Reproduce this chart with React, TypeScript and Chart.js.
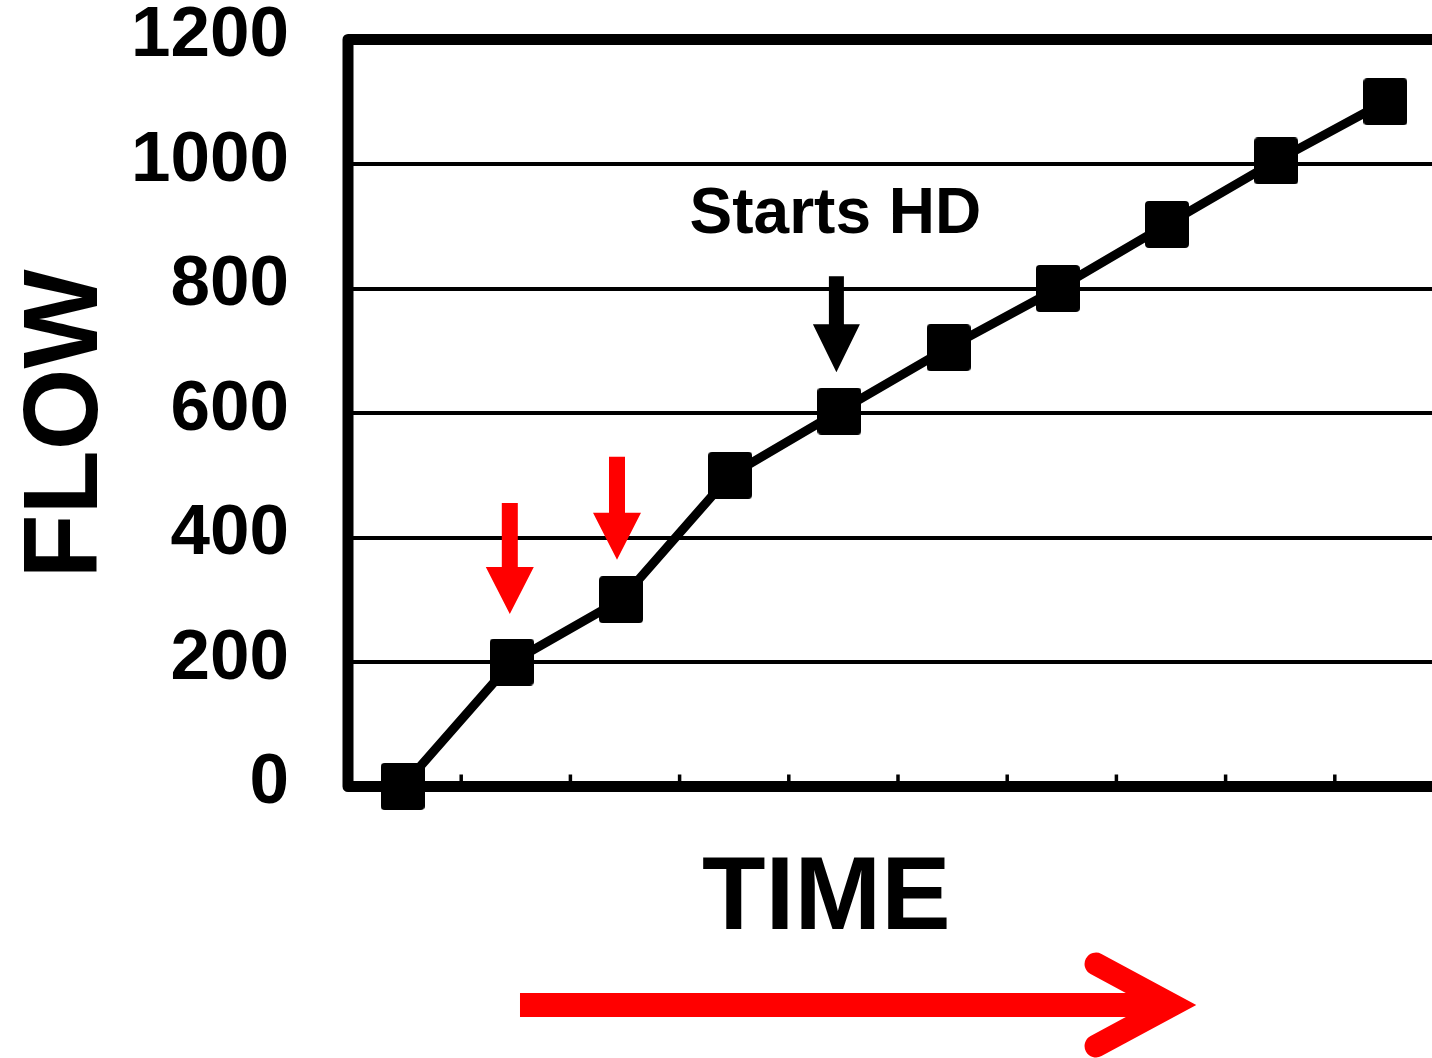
import React, { useEffect, useRef } from "react";
import { Chart, registerables } from "chart.js";

Chart.register(...registerables);

// ---- data ----
const timePoints = ["T1", "T2", "T3", "T4", "T5", "T6", "T7", "T8", "T9", "T10"];
const flowValues = [0, 200, 300, 500, 603, 705, 800, 903, 1005, 1100];
const flowTicks = [0, 200, 400, 600, 800, 1000, 1200];
const yAxisTitle = "FLOW";
const xAxisTitle = "TIME";
const startLabel = "Starts HD";
const startIndex = 4;
const redArrowIndices = [1, 2];

const FONT = '"Liberation Sans", Arial, Helvetica, sans-serif';
const RED = "#ff0000";

function makeMarker(w: number, h: number, r: number) {
  const c = document.createElement("canvas");
  c.width = w;
  c.height = h;
  const g = c.getContext("2d")!;
  g.fillStyle = "#000";
  g.beginPath();
  g.moveTo(r, 0);
  g.lineTo(w - r, 0);
  g.quadraticCurveTo(w, 0, w, r);
  g.lineTo(w, h - r);
  g.quadraticCurveTo(w, h, w - r, h);
  g.lineTo(r, h);
  g.quadraticCurveTo(0, h, 0, h - r);
  g.lineTo(0, r);
  g.quadraticCurveTo(0, 0, r, 0);
  g.closePath();
  g.fill();
  return c;
}

function downArrow(
  ctx: CanvasRenderingContext2D,
  x: number,
  tipY: number,
  length: number,
  shaftW: number,
  headW: number,
  headH: number,
  color: string
) {
  const topY = tipY - length;
  const headTop = tipY - headH;
  ctx.fillStyle = color;
  ctx.beginPath();
  ctx.moveTo(x - shaftW / 2, topY);
  ctx.lineTo(x + shaftW / 2, topY);
  ctx.lineTo(x + shaftW / 2, headTop);
  ctx.lineTo(x + headW / 2, headTop);
  ctx.lineTo(x, tipY);
  ctx.lineTo(x - headW / 2, headTop);
  ctx.lineTo(x - shaftW / 2, headTop);
  ctx.closePath();
  ctx.fill();
}

// annotation geometry (offsets relative to data points / chart area)
const arrowSpecs: Record<number, { dx: number; gap: number; len: number }> = {
  1: { dx: -2, gap: 48, len: 111 },
  2: { dx: -4, gap: 40, len: 103 },
  4: { dx: -3, gap: 39, len: 96 },
};

const framePlugin = {
  id: "frameAndTicks",
  beforeDatasetsDraw(chart: any) {
    const ctx: CanvasRenderingContext2D = chart.ctx;
    const { left, right, top, bottom } = chart.chartArea;
    const xs = chart.scales.x;
    ctx.save();
    // inner tick marks between categories
    ctx.strokeStyle = "#000";
    ctx.lineWidth = 3.5;
    for (let i = 0; i < timePoints.length - 1; i++) {
      const x = xs.getPixelForValue(i + 0.5) + 4;
      ctx.beginPath();
      ctx.moveTo(x, bottom);
      ctx.lineTo(x, bottom - 12);
      ctx.stroke();
    }
    // frame
    ctx.lineWidth = 11;
    ctx.lineJoin = "round";
    ctx.beginPath();
    ctx.moveTo(right + 20, top);
    ctx.lineTo(left, top);
    ctx.lineTo(left, bottom);
    ctx.lineTo(right + 20, bottom);
    ctx.stroke();
    ctx.restore();
  },
  afterDatasetsDraw(chart: any) {
    const ctx: CanvasRenderingContext2D = chart.ctx;
    const { top, bottom } = chart.chartArea;
    const xs = chart.scales.x;
    const pts = chart.getDatasetMeta(0).data;
    ctx.save();

    // red arrows
    redArrowIndices.forEach((i) => {
      const s = arrowSpecs[i];
      const p = pts[i];
      downArrow(ctx, p.x + s.dx, p.y - s.gap, s.len, 16, 48, 47, RED);
    });

    // black "Starts HD" arrow + label
    {
      const s = arrowSpecs[startIndex];
      const p = pts[startIndex];
      const ax = p.x + s.dx;
      const tip = p.y - s.gap;
      downArrow(ctx, ax, tip, s.len, 15, 47, 48, "#000");
      ctx.fillStyle = "#000";
      ctx.font = `bold 64px ${FONT}`;
      ctx.textAlign = "center";
      ctx.textBaseline = "alphabetic";
      ctx.fillText(startLabel, ax - 1, tip - s.len - 43);
    }

    // y-axis title
    ctx.save();
    ctx.translate(97, (top + bottom) / 2 + 11);
    ctx.rotate(-Math.PI / 2);
    ctx.fillStyle = "#000";
    ctx.font = `bold 105px ${FONT}`;
    ctx.textAlign = "center";
    ctx.textBaseline = "alphabetic";
    ctx.fillText(yAxisTitle, 0, 0);
    ctx.restore();

    // x-axis title
    ctx.fillStyle = "#000";
    ctx.font = `bold 104px ${FONT}`;
    ctx.textAlign = "center";
    ctx.textBaseline = "alphabetic";
    ctx.fillText(xAxisTitle, xs.getPixelForValue(3.88), bottom + 142.5);

    // big red time arrow
    const ay = bottom + 218.5;
    const x0 = xs.getPixelForValue(1.075);
    const tipX = xs.getPixelForValue(7.266);
    const vx = tipX - 24;
    ctx.fillStyle = RED;
    ctx.fillRect(x0, ay - 12, vx - 10 - x0, 24);
    ctx.strokeStyle = RED;
    ctx.lineWidth = 23;
    ctx.lineCap = "round";
    ctx.lineJoin = "miter";
    ctx.miterLimit = 10;
    ctx.beginPath();
    ctx.moveTo(vx - 76, ay - 41);
    ctx.lineTo(vx, ay);
    ctx.lineTo(vx - 76, ay + 41);
    ctx.stroke();

    ctx.restore();
  },
};

export default function App() {
  const ref = useRef<HTMLCanvasElement | null>(null);

  useEffect(() => {
    if (!ref.current) return;
    const marker = makeMarker(44, 47, 4);
    const chart = new Chart(ref.current, {
      type: "line",
      data: {
        labels: timePoints,
        datasets: [
          {
            data: flowValues,
            borderColor: "#000",
            backgroundColor: "#000",
            borderWidth: 9,
            tension: 0,
            pointStyle: marker as any,
            pointRadius: 23,
            pointHoverRadius: 23,
            clip: false as any,
          },
        ],
      },
      options: {
        responsive: false,
        animation: false,
        events: [],
        layout: {
          autoPadding: false,
          padding: { left: 0, right: 10, top: 39.5, bottom: 271.5 },
        },
        plugins: {
          legend: { display: false },
          tooltip: { enabled: false },
          title: { display: false },
        },
        scales: {
          x: {
            type: "category",
            offset: true,
            display: false,
          },
          y: {
            min: 0,
            max: 1200,
            afterBuildTicks: (scale: any) => {
              scale.ticks = flowTicks.map((v) => ({ value: v }));
            },
            afterFit: (scale: any) => {
              scale.width = 348;
            },
            border: { display: false },
            grid: {
              color: "#000",
              lineWidth: (c: any) =>
                c.tick && (c.tick.value === 0 || c.tick.value === 1200) ? 0 : 4,
              drawTicks: true,
              tickLength: 59,
              tickWidth: 0,
              tickColor: "rgba(0,0,0,0)",
            },
            ticks: {
              color: "#000",
              padding: 0,
              labelOffset: -3,
              callback: (v: any) => String(v),
              font: { family: FONT, size: 71, weight: "bold", lineHeight: 1 },
            },
          },
        },
      },
      plugins: [framePlugin],
    } as any);
    return () => chart.destroy();
  }, []);

  return (
    <div
      style={{
        position: "fixed",
        left: 0,
        top: 0,
        width: 1432,
        height: 1058,
        overflow: "hidden",
        background: "#fff",
      }}
    >
      <canvas ref={ref} width={1450} height={1058} style={{ display: "block" }} />
    </div>
  );
}
